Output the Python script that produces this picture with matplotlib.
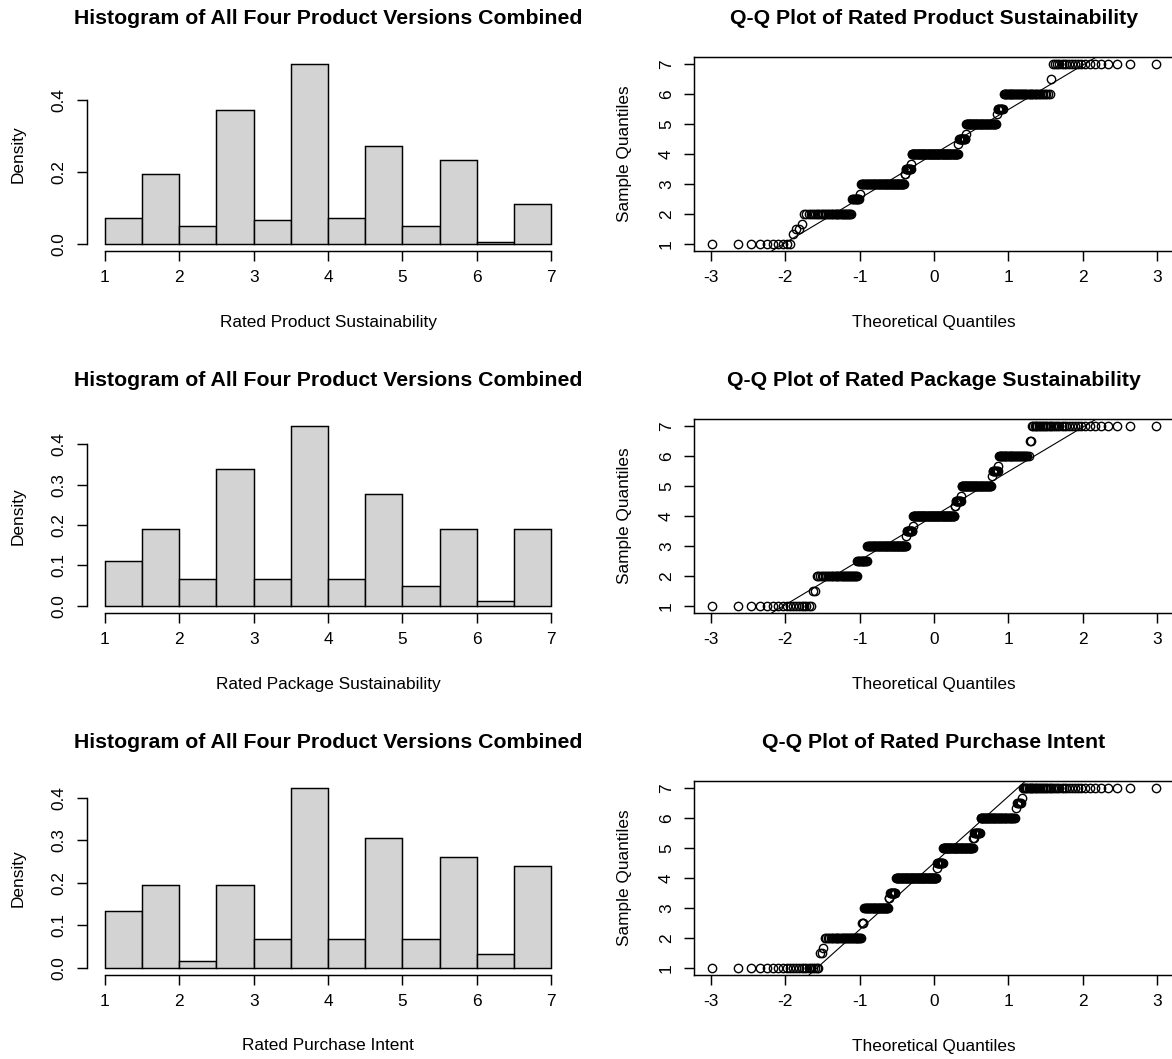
import numpy as np
import matplotlib
matplotlib.use("Agg")
import matplotlib.pyplot as plt
from statistics import NormalDist

plt.rcParams['font.family'] = ['Liberation Sans', 'DejaVu Sans']
plt.rcParams['axes.unicode_minus'] = False

# possible rating values (single items and averaged items)
levels = [1, 4/3, 3/2, 5/3, 2, 7/3, 5/2, 8/3, 3, 10/3, 7/2, 11/3, 4,
          13/3, 9/2, 14/3, 5, 16/3, 11/2, 17/3, 6, 19/3, 13/2, 20/3, 7]

# number of respondents giving each value
product_counts = [10, 1, 2, 1, 34, 0, 9, 1, 66, 2, 10, 1, 89,
                  1, 12, 1, 48, 1, 8, 0, 42, 0, 1, 0, 20]
package_counts = [18, 0, 2, 0, 34, 0, 12, 0, 61, 1, 11, 1, 79,
                  2, 10, 1, 49, 1, 8, 1, 33, 0, 2, 0, 34]
purchase_counts = [22, 0, 2, 1, 34, 0, 3, 0, 35, 2, 10, 0, 76,
                   1, 11, 0, 55, 2, 10, 0, 47, 1, 5, 1, 42]

variables = ["Rated Product Sustainability", "Rated Package Sustainability",
             "Rated Purchase Intent"]
all_counts = [product_counts, package_counts, purchase_counts]
hist_yticks = [[0.0, 0.2, 0.4], [0.0, 0.1, 0.2, 0.3, 0.4], [0.0, 0.1, 0.2, 0.3, 0.4]]
breaks = np.arange(1, 7.01, 0.5)

TITLE_SIZE = 15.3
LABEL_SIZE = 12.4
LW = 1.05

W, H = 1172, 1059
fig = plt.figure(figsize=(W / 100, H / 100), dpi=100)


def px_axes(left, top, width, height):
    return fig.add_axes([left / W, 1 - (top + height) / H, width / W, height / H])


def style_axis(ax):
    ax.tick_params(axis='both', direction='out', length=7.5, width=LW,
                   labelsize=LABEL_SIZE, color='black')
    ax.tick_params(axis='x', pad=6)
    ax.tick_params(axis='y', pad=7)
    for lab in ax.get_yticklabels():
        lab.set_rotation(90)
        lab.set_va('center')
        lab.set_ha('right')
    for sp in ax.spines.values():
        sp.set_linewidth(LW)


row_top = [57, 419, 781]
plot_h = 194

for i, (name, counts) in enumerate(zip(variables, all_counts)):
    top = row_top[i]
    values = np.repeat(np.array(levels), counts)
    n = len(values)

    # histogram, R style: right-closed bins, lowest value included
    idx = np.clip(np.ceil((values - 1) / 0.5 - 1e-9).astype(int) - 1, 0, len(breaks) - 2)
    bin_counts = np.bincount(idx, minlength=len(breaks) - 1)
    density = bin_counts / (n * 0.5)

    ax = px_axes(87, top, 482, plot_h)
    ax.bar(breaks[:-1], density, width=0.5, align='edge', color='#D3D3D3',
           edgecolor='black', linewidth=LW)
    dmax = density.max()
    ax.set_xlim(1 - 0.24, 7 + 0.24)
    ax.set_ylim(-0.04 * dmax, 1.04 * dmax)
    ax.set_xticks(range(1, 8))
    ax.set_yticks(hist_yticks[i])
    ax.set_yticklabels([f"{v:.1f}" for v in hist_yticks[i]])
    ax.spines['top'].set_visible(False)
    ax.spines['right'].set_visible(False)
    ax.spines['bottom'].set_bounds(1, 7)
    ax.spines['left'].set_bounds(hist_yticks[i][0], hist_yticks[i][-1])
    style_axis(ax)

    fig.text(328 / W, 1 - (18 + 362 * i) / H, "Histogram of All Four Product Versions Combined",
             ha='center', va='center', fontsize=TITLE_SIZE, fontweight='bold')
    fig.text(328 / W, 1 - (322 + 362 * i) / H, name, ha='center', va='center',
             fontsize=LABEL_SIZE)
    fig.text(18 / W, 1 - (top + plot_h / 2) / H, "Density", ha='center', va='center',
             rotation=90, fontsize=LABEL_SIZE)

    # normal Q-Q plot
    y = np.sort(values)
    probs = (np.arange(1, n + 1) - 0.5) / n
    nd = NormalDist()
    x = np.array([nd.inv_cdf(p) for p in probs])

    qx = px_axes(694, top, 480, plot_h)
    qx.plot(x, y, 'o', mfc='none', mec='black', ms=6, mew=1.0)
    q1, q3 = np.quantile(y, [0.25, 0.75])
    z1, z3 = nd.inv_cdf(0.25), nd.inv_cdf(0.75)
    qx.axline((z1, q1), slope=(q3 - q1) / (z3 - z1), color='black', lw=0.8)
    xr = x.max() - x.min()
    qx.set_xlim(x.min() - 0.04 * xr, x.max() + 0.04 * xr)
    qx.set_ylim(0.76, 7.24)
    qx.set_xticks(range(-3, 4))
    qx.set_yticks(range(1, 8))
    style_axis(qx)

    fig.text(934 / W, 1 - (18 + 362 * i) / H, f"Q-Q Plot of {name}",
             ha='center', va='center', fontsize=TITLE_SIZE, fontweight='bold')
    fig.text(934 / W, 1 - (322 + 362 * i) / H, "Theoretical Quantiles",
             ha='center', va='center', fontsize=LABEL_SIZE)
    fig.text(624 / W, 1 - (top + plot_h / 2) / H, "Sample Quantiles", ha='center',
             va='center', rotation=90, fontsize=LABEL_SIZE)

fig.savefig("out.png", dpi=100)
